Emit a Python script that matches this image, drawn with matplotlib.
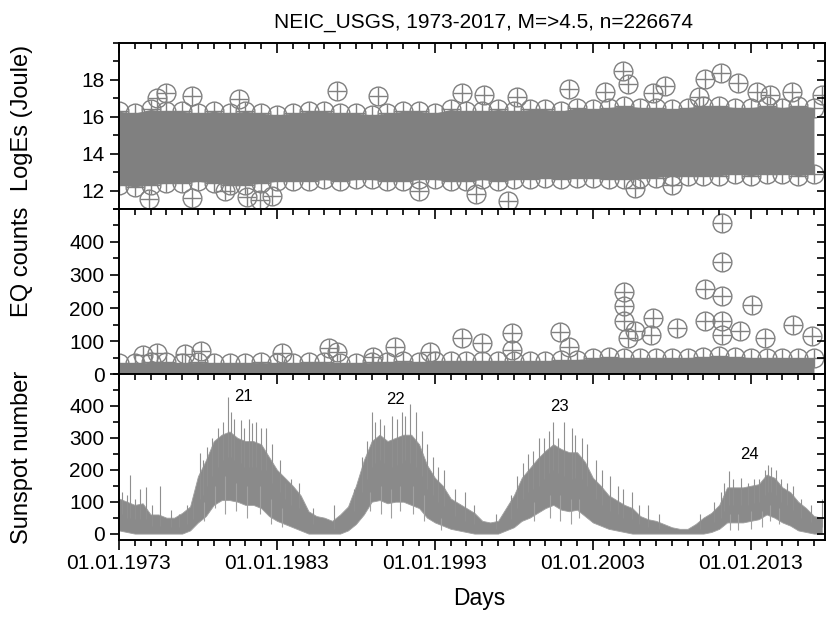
import numpy as np
import matplotlib.pyplot as plt
from matplotlib.ticker import MultipleLocator

plt.rcParams['font.family'] = ['Liberation Sans', 'DejaVu Sans']

grey = '#808080'

# ---- panel 1: LogEs, yearly envelope of the dense cloud + single outliers
years = np.arange(1973, 2018)
es_hi = [16.3, 16.2, 16.4, 16.3, 16.3, 16.2, 16.3, 16.2, 16.3, 16.2, 16.1, 16.2, 16.3, 16.3, 16.2,
         16.2, 16.1, 16.2, 16.3, 16.3, 16.2, 16.4, 16.3, 16.3, 16.4, 16.3, 16.4, 16.4, 16.3, 16.5,
         16.4, 16.5, 16.6, 16.5, 16.5, 16.4, 16.5, 16.6, 16.6, 16.5, 16.5, 16.6, 16.5, 16.6, 16.5]
es_lo = [12.3, 12.2, 12.3, 12.4, 12.4, 12.5, 12.4, 12.3, 12.3, 12.4, 12.5, 12.5, 12.5, 12.6, 12.5,
         12.6, 12.6, 12.5, 12.5, 12.6, 12.6, 12.5, 12.5, 12.6, 12.5, 12.6, 12.6, 12.7, 12.6, 12.7,
         12.7, 12.6, 12.6, 12.7, 12.7, 12.8, 12.8, 12.8, 12.8, 12.9, 12.8, 12.9, 12.9, 12.8, 12.9]
es_out_x = [1975.4, 1976.0, 1977.6, 1980.6, 1986.8, 1989.4, 1994.7, 1996.1, 1998.2, 2001.5, 2003.8,
            2004.9, 2005.2, 2006.8, 2007.6, 2009.7, 2010.1, 2011.1, 2012.2, 2013.4, 2014.2, 2015.6, 2017.5,
            1974.9, 1977.6, 1979.7, 1981.1, 1981.9, 1982.7, 1992.0, 1995.6, 1997.6, 2005.7, 2008.0]
es_out_y = [17.0, 17.3, 17.1, 16.95, 17.4, 17.1, 17.3, 17.2, 17.05, 17.5, 17.35,
            18.5, 17.75, 17.3, 17.65, 17.05, 18.05, 18.35, 17.85, 17.35, 17.2, 17.35, 17.2,
            11.55, 11.6, 11.95, 11.65, 11.5, 11.7, 11.95, 11.8, 11.45, 12.15, 12.3]

# ---- panel 2: EQ counts per day
eq_hi = [34, 33, 35, 36, 34, 35, 34, 33, 34, 35, 33, 34, 36, 35, 34,
         33, 35, 37, 38, 37, 38, 39, 38, 39, 40, 38, 39, 40, 42, 44,
         48, 52, 50, 49, 48, 48, 50, 52, 54, 52, 50, 50, 49, 48, 48]
eq_out_x = [1974.5, 1975.4, 1977.2, 1978.2, 1983.3, 1986.3, 1986.8, 1989.1, 1990.5, 1992.7, 1994.7,
            1996.0, 1997.9, 1997.9, 2000.9, 2001.5, 2005.0, 2005.0, 2005.0, 2005.2, 2005.7, 2006.7,
            2006.8, 2008.3, 2010.1, 2010.1, 2011.2, 2011.2, 2011.2, 2011.2, 2011.2, 2012.3, 2013.1,
            2013.9, 2015.7, 2016.9]
eq_out_y = [58, 63, 61, 70, 65, 80, 68, 53, 83, 68, 109,
            94, 124, 73, 126, 83, 249, 205, 160, 109, 129, 119,
            170, 139, 258, 162, 457, 340, 236, 160, 119, 131, 208,
            109, 149, 114]

# ---- panel 3: daily sunspot number, half-year envelope of the dense band
half_years = np.arange(1973, 2018, 0.5)
ssn_lo = [10, 5, 0, 0, 0, 0, 0, 0, 0, 10,
          35, 55, 90, 105, 105, 100, 90, 90, 80, 55,
          40, 30, 20, 10, 0, 0, 0, 0, 0, 10,
          30, 60, 100, 105, 95, 100, 100, 90, 80, 50,
          35, 25, 15, 10, 5, 0, 0, 0, 0, 10,
          20, 40, 50, 65, 80, 90, 75, 70, 75, 55,
          35, 25, 15, 10, 5, 0, 0, 0, 0, 0,
          0, 0, 0, 0, 0, 5, 15, 35, 35, 35,
          40, 45, 60, 50, 35, 25, 10, 5, 0, 0]
ssn_hi = [110, 100, 90, 95, 60, 60, 50, 50, 65, 85,
          180, 230, 290, 310, 320, 300, 290, 290, 280, 240,
          200, 175, 150, 120, 70, 55, 50, 40, 60, 85,
          150, 230, 290, 310, 290, 300, 310, 310, 280, 215,
          175, 150, 110, 95, 80, 65, 40, 35, 40, 80,
          120, 175, 205, 235, 260, 280, 265, 255, 255, 225,
          175, 150, 120, 105, 90, 80, 55, 45, 40, 30,
          20, 15, 15, 30, 50, 65, 90, 145, 145, 145,
          150, 155, 185, 175, 145, 130, 100, 80, 55, 50]
# single-day excursions above the band (x, from, to)
up_x = [1973.2, 1973.5, 1973.7, 1974.0, 1974.3, 1974.7, 1975.1, 1975.6, 1976.3, 1976.8, 1977.3, 1977.7,
        1978.1, 1978.3, 1978.6, 1978.9, 1979.3, 1979.6, 1979.9, 1980.1, 1980.3, 1980.7, 1980.9, 1981.2,
        1981.4, 1981.7, 1982.0, 1982.3, 1982.7, 1983.2, 1983.5, 1983.9, 1984.4, 1985.3, 1986.6, 1987.9,
        1988.4, 1988.7, 1989.0, 1989.2, 1989.5, 1989.8, 1990.3, 1990.6, 1990.9, 1991.1, 1991.4, 1991.8,
        1992.2, 1992.5, 1992.9, 1993.2, 1993.6, 1994.3, 1994.9, 1995.5, 1996.9, 1997.8, 1998.2, 1998.6,
        1998.9, 1999.2, 1999.6, 1999.9, 2000.2, 2000.5, 2000.8, 2001.2, 2001.7, 2001.9, 2002.3, 2002.6,
        2003.2, 2003.6, 2004.1, 2004.6, 2004.9, 2005.5, 2005.9, 2006.5, 2007.2, 2009.8, 2010.7, 2011.1,
        2011.3, 2011.6, 2011.9, 2012.4, 2012.8, 2013.2, 2013.5, 2013.9, 2014.1, 2014.3, 2014.6, 2014.9,
        2015.3, 2015.7, 2016.2, 2016.8, 2017.5]
up_from = [60, 50, 50, 45, 45, 45, 25, 25, 20, 20, 30, 45,
           110, 120, 150, 180, 210, 230, 240, 240, 230, 220, 210, 210,
           210, 210, 200, 200, 160, 130, 110, 90, 80, 30, 15, 70,
           130, 170, 210, 220, 230, 220, 210, 215, 220, 230, 220, 210,
           180, 140, 120, 100, 85, 55, 40, 30, 15, 45, 80, 110,
           130, 140, 150, 170, 190, 200, 190, 180, 170, 175, 170, 150,
           110, 90, 70, 60, 50, 45, 30, 20, 15, 15, 35, 50,
           70, 90, 90, 90, 90, 95, 100, 120, 130, 130, 120, 100,
           90, 75, 50, 35, 20]
up_to = [130, 120, 184, 110, 140, 145, 90, 150, 75, 60, 90, 100,
         252, 230, 270, 300, 330, 350, 428, 380, 360, 355, 330, 360,
         345, 350, 330, 330, 280, 230, 160, 170, 158, 80, 90, 140,
         240, 290, 380, 350, 360, 340, 370, 360, 380, 370, 407, 380,
         320, 280, 240, 210, 200, 140, 130, 90, 60, 120, 180, 220,
         250, 260, 300, 300, 320, 350, 300, 350, 330, 310, 300, 280,
         230, 200, 180, 150, 140, 130, 90, 90, 60, 60, 100, 130,
         160, 195, 170, 175, 160, 170, 170, 200, 215, 210, 200, 170,
         160, 150, 110, 90, 107]
# single-day dips below the band (x, from, to)
dn_x = [1978.4, 1979.1, 1979.7, 1980.4, 1981.1, 1981.9, 1982.6, 1983.3, 1988.9, 1989.6, 1990.2, 1990.8,
        1991.6, 1992.3, 1993.4, 1999.3, 2000.3, 2000.9, 2001.6, 2002.1, 2011.7, 2012.2, 2013.0, 2013.7,
        2014.2, 2014.8]
dn_from = [100, 150, 180, 160, 150, 150, 110, 80, 130, 150, 140, 150,
           150, 120, 50, 100, 120, 120, 110, 110, 60, 60, 70, 70,
           90, 80]
dn_to = [40, 80, 60, 70, 50, 60, 30, 20, 70, 60, 50, 70,
         60, 40, 10, 40, 50, 40, 30, 50, 10, 10, 15, 20,
         40, 30]
cycle_num = ['21', '22', '23', '24']
cycle_x = [1980.9, 1990.5, 2000.9, 2012.9]
cycle_y = [429, 419, 398, 249]

xmajor = [1973, 1983, 1993, 2003, 2013]


def oplus(ax, x, y):
    ax.plot(x, y, ls='none', marker='o', ms=13.5, mfc='none', mec=grey, mew=1.0)
    ax.plot(x, y, ls='none', marker='+', ms=13.5, mec=grey, mew=1.0)


def style(ax, yticks, yminor, ylim, bottom_labels):
    ax.set_xlim(1973, 2017.7)
    ax.set_ylim(*ylim)
    ax.set_xticks(xmajor)
    ax.xaxis.set_minor_locator(MultipleLocator(1))
    ax.set_yticks(yticks)
    ax.yaxis.set_minor_locator(MultipleLocator(yminor))
    ax.tick_params(axis='y', which='major', direction='out', length=6.5, width=1.2, labelsize=15, pad=4)
    ax.tick_params(axis='y', which='minor', direction='out', length=4, width=1.2)
    if bottom_labels:
        ax.set_xticklabels(['01.01.%d' % y for y in xmajor])
        ax.tick_params(axis='x', which='major', direction='out', length=7, width=1.2, labelsize=15, pad=3)
        ax.tick_params(axis='x', which='minor', direction='out', length=4, width=1.2)
    else:
        ax.tick_params(axis='x', which='both', bottom=False, labelbottom=False)
    for s in ax.spines.values():
        s.set_linewidth(1.4)
    # inward ticks on the top and right edges, drawn by a transparent overlay
    o = fig.add_axes(ax.get_position(), frameon=False)
    o.set_xlim(ax.get_xlim())
    o.set_ylim(ax.get_ylim())
    o.set_xticks(xmajor)
    o.xaxis.set_minor_locator(MultipleLocator(1))
    o.set_yticks(yticks)
    o.yaxis.set_minor_locator(MultipleLocator(yminor))
    o.tick_params(which='both', direction='in', top=True, right=True, bottom=False, left=False,
                  labelbottom=False, labelleft=False, width=1.2)
    o.tick_params(axis='x', which='major', length=7)
    o.tick_params(axis='x', which='minor', length=4)
    o.tick_params(axis='y', which='both', length=5.5)


fig = plt.figure(figsize=(8.28, 6.17), dpi=100)
ax1 = fig.add_axes([0.1437, 0.6613, 0.8527, 0.2690])
ax2 = fig.add_axes([0.1437, 0.3938, 0.8527, 0.2675])
ax3 = fig.add_axes([0.1437, 0.1248, 0.8527, 0.2690])

# panel 1
ax1.fill_between(years, es_lo, es_hi, color=grey, lw=0)
oplus(ax1, years, es_hi)
oplus(ax1, years, es_lo)
oplus(ax1, es_out_x, es_out_y)
ax1.set_ylabel('LogEs (Joule)', fontsize=17)
ax1.yaxis.set_label_coords(-0.122, 0.55)
style(ax1, [12, 14, 16, 18], 1, (11, 20), False)

# panel 2
ax2.fill_between(years, 0, eq_hi, color=grey, lw=0)
oplus(ax2, years, eq_hi)
oplus(ax2, eq_out_x, eq_out_y)
ax2.set_ylabel('EQ counts', fontsize=17)
ax2.yaxis.set_label_coords(-0.122, 0.68)
style(ax2, [0, 100, 200, 300, 400], 50, (0, 500), False)

# panel 3
ax3.fill_between(half_years, ssn_lo, ssn_hi, color='#8a8a8a', lw=0.6, edgecolor='#a0a0a0')
ax3.vlines(up_x, up_from, up_to, color='#8f8f8f', lw=0.8)
ax3.vlines(dn_x, dn_from, dn_to, color='#a0a0a0', lw=0.8)
for t, x, y in zip(cycle_num, cycle_x, cycle_y):
    ax3.text(x, y, t, ha='center', va='center', fontsize=12)
ax3.set_ylabel('Sunspot number', fontsize=17)
ax3.yaxis.set_label_coords(-0.122, 0.5)
style(ax3, [0, 100, 200, 300, 400], 50, (-20, 500), True)

fig.text(484 / 828, 1 - 23 / 617, 'NEIC_USGS, 1973-2017, M=>4.5, n=226674',
         ha='center', va='center', fontsize=15)
fig.text(479 / 828, 1 - 599 / 617, 'Days', ha='center', va='center', fontsize=16.5)

fig.savefig('out.png', dpi=100)
